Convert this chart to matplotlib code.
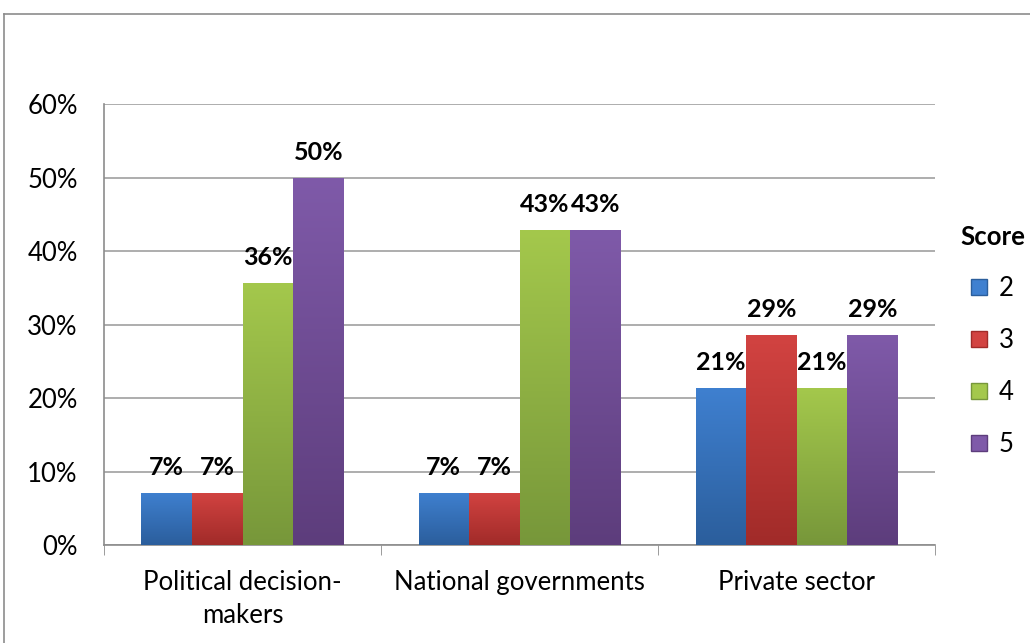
import numpy as np
import matplotlib
matplotlib.use("Agg")
import matplotlib.pyplot as plt
from matplotlib.colors import LinearSegmentedColormap
from matplotlib.lines import Line2D
from matplotlib.patches import Patch

categories = ["Political decision-\nmakers", "National governments", "Private sector"]
scores = ["2", "3", "4", "5"]
values = {
    "2": [7.14, 7.14, 21.43],
    "3": [7.14, 7.14, 28.57],
    "4": [35.71, 42.86, 21.43],
    "5": [50.0, 42.86, 28.57],
}
labels = {
    "2": ["7%", "7%", "21%"],
    "3": ["7%", "7%", "29%"],
    "4": ["36%", "43%", "21%"],
    "5": ["50%", "43%", "29%"],
}
# (top colour, bottom colour) for the vertical gradient
colours = {
    "2": ("#3f80d0", "#2b5e9c"),
    "3": ("#d24341", "#a12b29"),
    "4": ("#a4c84c", "#77973a"),
    "5": ("#7f5aa9", "#5d3d7c"),
}

plt.rcParams["font.family"] = ["Lato", "DejaVu Sans"]

fig = plt.figure(figsize=(10.3, 6.43), dpi=100)
ax = fig.add_axes([0.101, 0.1524, 0.807, 0.6858])

# outer chart border
fig.add_artist(Line2D([0.004, 0.004], [0, 0.978], transform=fig.transFigure,
                      color="#8c8c8c", lw=1.2))
fig.add_artist(Line2D([0.004, 1.0], [0.978, 0.978], transform=fig.transFigure,
                      color="#8c8c8c", lw=1.2))

x = np.arange(len(categories))
width = 0.1825
grad = np.linspace(1, 0, 256).reshape(-1, 1)

for i, s in enumerate(scores):
    offs = x + (i - 1.5) * width
    bars = ax.bar(offs, values[s], width, color=colours[s][0], zorder=3)
    cmap = LinearSegmentedColormap.from_list(s, [colours[s][1], colours[s][0]])
    for b, lab in zip(bars, labels[s]):
        x0, y0 = b.get_x(), b.get_y()
        w, h = b.get_width(), b.get_height()
        b.set_facecolor("none")
        im = ax.imshow(grad, cmap=cmap, aspect="auto", extent=[x0, x0 + w, y0, y0 + h],
                       origin="upper", zorder=3, interpolation="bicubic")
        im.set_clip_path(b)
        ax.text(x0 + w / 2, h + 1.9, lab, ha="center", va="bottom",
                fontsize=18, fontweight="bold", zorder=4)

ax.set_xlim(-0.5, 2.5)
ax.set_ylim(0, 60)
ax.set_yticks(np.arange(0, 61, 10))
ax.set_yticklabels([f"{v}%" for v in range(0, 61, 10)], fontsize=18.5)
ax.set_xticks(x)
ax.set_xticklabels(categories, fontsize=18.5, linespacing=1.4)
ax.set_xticks([-0.5, 0.5, 1.5, 2.5], minor=True)
ax.tick_params(axis="x", which="major", length=0, pad=18)
ax.tick_params(axis="x", which="minor", length=7, color="#8c8c8c")
ax.tick_params(axis="y", length=0, pad=19)
ax.grid(axis="y", color="#a0a0a0", lw=1.2, zorder=0)
for side in ["top", "right"]:
    ax.spines[side].set_visible(False)
ax.spines["left"].set_color("#8c8c8c")
ax.spines["bottom"].set_color("#8c8c8c")
ax.spines["left"].set_linewidth(1.2)
ax.spines["bottom"].set_linewidth(1.2)

handles = [Patch(facecolor=colours[s][0], edgecolor=colours[s][1], label=s) for s in scores]
leg = fig.legend(handles=handles, title="Score", loc="center left",
                 bbox_to_anchor=(0.932, 0.47), frameon=False, fontsize=18.5,
                 title_fontproperties={"weight": "bold", "size": 18.5},
                 handlelength=0.6, handleheight=0.6, handletextpad=0.45,
                 labelspacing=1.05, borderaxespad=0, borderpad=0)
leg._legend_box.align = "center"

fig.savefig("out.png", dpi=100)
